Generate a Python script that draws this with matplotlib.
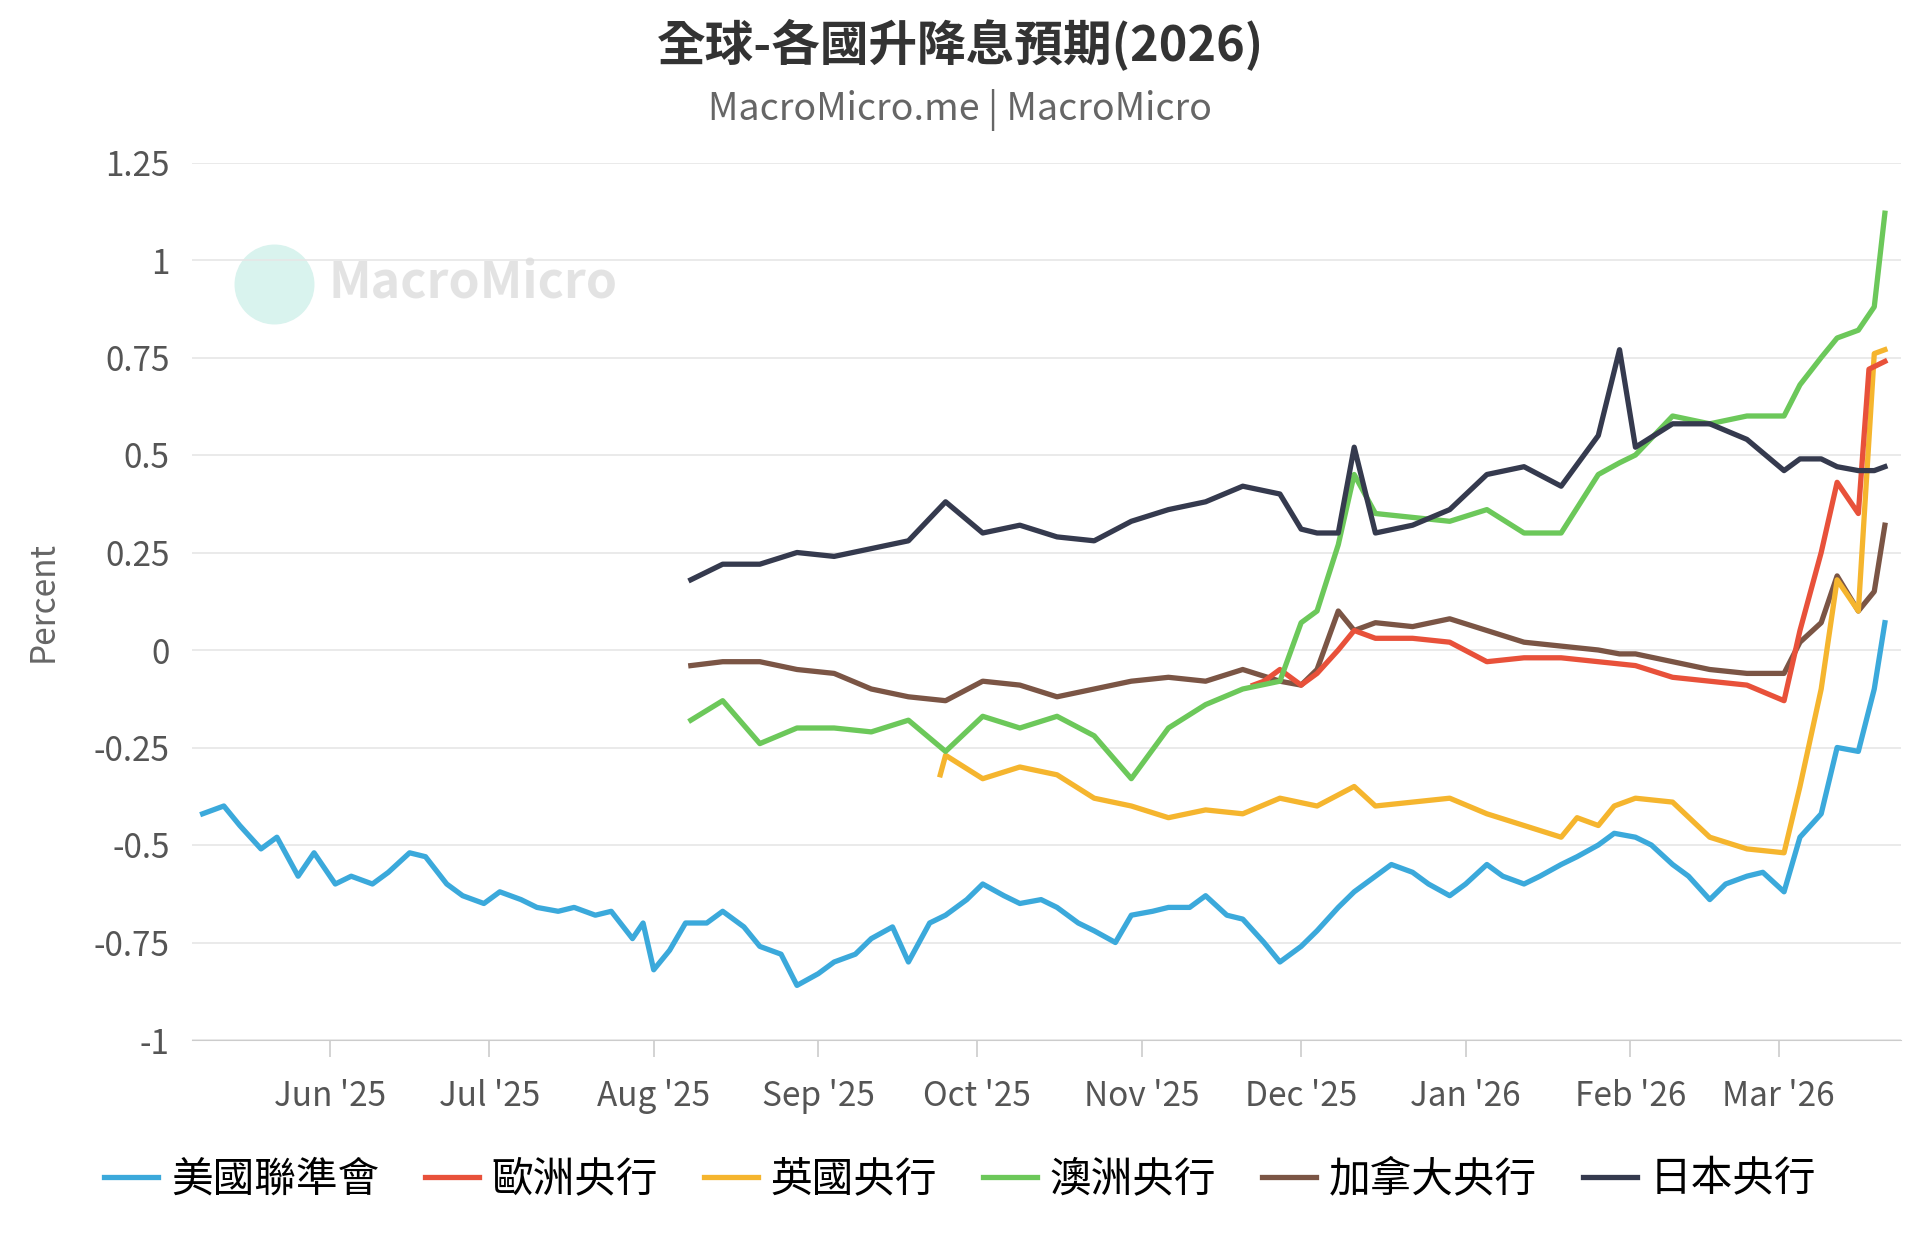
import matplotlib
matplotlib.use("Agg")
import matplotlib.pyplot as plt
import matplotlib.dates as mdates
import pandas as pd

plt.rcParams['font.family'] = ['Noto Sans CJK TC', 'DejaVu Sans']

fed_dates = ["2025-05-08","2025-05-12","2025-05-15","2025-05-19","2025-05-22","2025-05-26","2025-05-29","2025-06-02","2025-06-05","2025-06-09","2025-06-12","2025-06-16","2025-06-19","2025-06-23","2025-06-26","2025-06-30","2025-07-03","2025-07-07","2025-07-10","2025-07-14","2025-07-17","2025-07-21","2025-07-24","2025-07-28","2025-07-30","2025-08-01","2025-08-04","2025-08-07","2025-08-11","2025-08-14","2025-08-18","2025-08-21","2025-08-25","2025-08-28","2025-09-01","2025-09-04","2025-09-08","2025-09-11","2025-09-15","2025-09-18","2025-09-22","2025-09-25","2025-09-29","2025-10-02","2025-10-06","2025-10-09","2025-10-13","2025-10-16","2025-10-20","2025-10-23","2025-10-27","2025-10-30","2025-11-03","2025-11-06","2025-11-10","2025-11-13","2025-11-17","2025-11-20","2025-11-24","2025-11-27","2025-12-01","2025-12-04","2025-12-08","2025-12-11","2025-12-15","2025-12-18","2025-12-22","2025-12-25","2025-12-29","2026-01-01","2026-01-05","2026-01-08","2026-01-12","2026-01-15","2026-01-19","2026-01-22","2026-01-26","2026-01-29","2026-02-02","2026-02-05","2026-02-09","2026-02-12","2026-02-16","2026-02-19","2026-02-23","2026-02-26","2026-03-02","2026-03-05","2026-03-09","2026-03-12","2026-03-16","2026-03-19","2026-03-21"]
fed = [-0.42,-0.40,-0.45,-0.51,-0.48,-0.58,-0.52,-0.60,-0.58,-0.60,-0.57,-0.52,-0.53,-0.60,-0.63,-0.65,-0.62,-0.64,-0.66,-0.67,-0.66,-0.68,-0.67,-0.74,-0.70,-0.82,-0.77,-0.70,-0.70,-0.67,-0.71,-0.76,-0.78,-0.86,-0.83,-0.80,-0.78,-0.74,-0.71,-0.80,-0.70,-0.68,-0.64,-0.60,-0.63,-0.65,-0.64,-0.66,-0.70,-0.72,-0.75,-0.68,-0.67,-0.66,-0.66,-0.63,-0.68,-0.69,-0.75,-0.80,-0.76,-0.72,-0.66,-0.62,-0.58,-0.55,-0.57,-0.60,-0.63,-0.60,-0.55,-0.58,-0.60,-0.58,-0.55,-0.53,-0.50,-0.47,-0.48,-0.50,-0.55,-0.58,-0.64,-0.60,-0.58,-0.57,-0.62,-0.48,-0.42,-0.25,-0.26,-0.10,0.07]

w_dates = ["2025-08-08","2025-08-14","2025-08-21","2025-08-28","2025-09-04","2025-09-11","2025-09-18","2025-09-25","2025-10-02","2025-10-09","2025-10-16","2025-10-23","2025-10-30","2025-11-06","2025-11-13","2025-11-20","2025-11-27","2025-12-01","2025-12-04","2025-12-08","2025-12-11","2025-12-15","2025-12-22","2025-12-29","2026-01-05","2026-01-12","2026-01-19","2026-01-26","2026-01-30","2026-02-02","2026-02-09","2026-02-16","2026-02-23","2026-03-02","2026-03-05","2026-03-09","2026-03-12","2026-03-16","2026-03-19","2026-03-21"]
boj = [0.18,0.22,0.22,0.25,0.24,0.26,0.28,0.38,0.30,0.32,0.29,0.28,0.33,0.36,0.38,0.42,0.40,0.31,0.30,0.30,0.52,0.30,0.32,0.36,0.45,0.47,0.42,0.55,0.77,0.52,0.58,0.58,0.54,0.46,0.49,0.49,0.47,0.46,0.46,0.47]
rba = [-0.18,-0.13,-0.24,-0.20,-0.20,-0.21,-0.18,-0.26,-0.17,-0.20,-0.17,-0.22,-0.33,-0.20,-0.14,-0.10,-0.08,0.07,0.10,0.27,0.45,0.35,0.34,0.33,0.36,0.30,0.30,0.45,0.48,0.50,0.60,0.58,0.60,0.60,0.68,0.75,0.80,0.82,0.88,1.12]
boc = [-0.04,-0.03,-0.03,-0.05,-0.06,-0.10,-0.12,-0.13,-0.08,-0.09,-0.12,-0.10,-0.08,-0.07,-0.08,-0.05,-0.08,-0.09,-0.05,0.10,0.05,0.07,0.06,0.08,0.05,0.02,0.01,0.00,-0.01,-0.01,-0.03,-0.05,-0.06,-0.06,0.02,0.07,0.19,0.10,0.15,0.32]

ecb_dates = ["2025-11-22","2025-11-24","2025-11-27","2025-12-01","2025-12-04","2025-12-08","2025-12-11","2025-12-15","2025-12-22","2025-12-29","2026-01-05","2026-01-12","2026-01-19","2026-01-26","2026-02-02","2026-02-09","2026-02-16","2026-02-23","2026-03-02","2026-03-05","2026-03-09","2026-03-12","2026-03-16","2026-03-18","2026-03-21"]
ecb = [-0.09,-0.08,-0.05,-0.09,-0.06,0.00,0.05,0.03,0.03,0.02,-0.03,-0.02,-0.02,-0.03,-0.04,-0.07,-0.08,-0.09,-0.13,0.05,0.25,0.43,0.35,0.72,0.74]

boe_dates = ["2025-09-24","2025-09-25","2025-10-02","2025-10-09","2025-10-16","2025-10-23","2025-10-30","2025-11-06","2025-11-13","2025-11-20","2025-11-27","2025-12-04","2025-12-11","2025-12-15","2025-12-22","2025-12-29","2026-01-05","2026-01-12","2026-01-19","2026-01-22","2026-01-26","2026-01-29","2026-02-02","2026-02-09","2026-02-16","2026-02-23","2026-03-02","2026-03-05","2026-03-09","2026-03-12","2026-03-16","2026-03-19","2026-03-21"]
boe = [-0.32,-0.27,-0.33,-0.30,-0.32,-0.38,-0.40,-0.43,-0.41,-0.42,-0.38,-0.40,-0.35,-0.40,-0.39,-0.38,-0.42,-0.45,-0.48,-0.43,-0.45,-0.40,-0.38,-0.39,-0.48,-0.51,-0.52,-0.35,-0.10,0.18,0.10,0.76,0.77]

names = ["美國聯準會","歐洲央行","英國央行","澳洲央行","加拿大央行","日本央行"]
colors = ["#3BA9DB","#E8513A","#F5B52E","#6CC85A","#7B5545","#353A4E"]

fig = plt.figure(figsize=(19.2, 12.5), dpi=100)
ax = fig.add_axes([0.1, 0.168, 0.89, 0.702])
series = [(fed_dates, fed), (ecb_dates, ecb), (boe_dates, boe), (w_dates, rba), (w_dates, boc), (w_dates, boj)]
order = [0, 4, 2, 1, 3, 5]
lines = {}
for i in order:
    d, v = series[i]
    l, = ax.plot(pd.to_datetime(d), v, color=colors[i], lw=3.8, label=names[i])
    lines[i] = l

ax.set_ylim(-1, 1.25)
ax.set_yticks([-1, -0.75, -0.5, -0.25, 0, 0.25, 0.5, 0.75, 1, 1.25])
ax.set_yticklabels(["-1","-0.75","-0.5","-0.25","0","0.25","0.5","0.75","1","1.25"])
ax.set_xlim(pd.Timestamp("2025-05-06"), pd.Timestamp("2026-03-24"))
ax.set_xticks(pd.date_range("2025-06-01", "2026-03-01", freq="MS"))
ax.xaxis.set_major_formatter(mdates.DateFormatter("%b '%y"))
ax.tick_params(axis='both', labelsize=24, colors='#555555', length=0, pad=16)
ax.tick_params(axis='x', length=12, color='#cccccc', width=1.2, direction='out')
ax.grid(axis='y', color='#e6e6e6', lw=1.2)
for s in ['top', 'right', 'left']:
    ax.spines[s].set_visible(False)
ax.spines['bottom'].set_color('#cccccc')
ax.set_ylabel("Percent", fontsize=24, color='#666666', labelpad=24)

fig.text(0.5, 0.964, "全球-各國升降息預期(2026)", ha='center', va='center', fontsize=35, fontweight='bold', color='#333333')
fig.text(0.5, 0.912, "MacroMicro.me | MacroMicro", ha='center', va='center', fontsize=27, color='#666666')
ax.text(0.08, 0.862, "MacroMicro", transform=ax.transAxes, fontsize=36, fontweight='bold', color='#dddddd', va='center', alpha=0.8)
ax.scatter([0.048], [0.862], s=3200, color='#d9f3ee', transform=ax.transAxes, zorder=0)

handles = [lines[i] for i in range(6)]
fig.legend(handles, names, loc='center', bbox_to_anchor=(0.5, 0.056), ncol=6, frameon=False,
           fontsize=30, handlelength=1.3, columnspacing=1.1, handletextpad=0.3)

fig.savefig("out.png", dpi=100)
